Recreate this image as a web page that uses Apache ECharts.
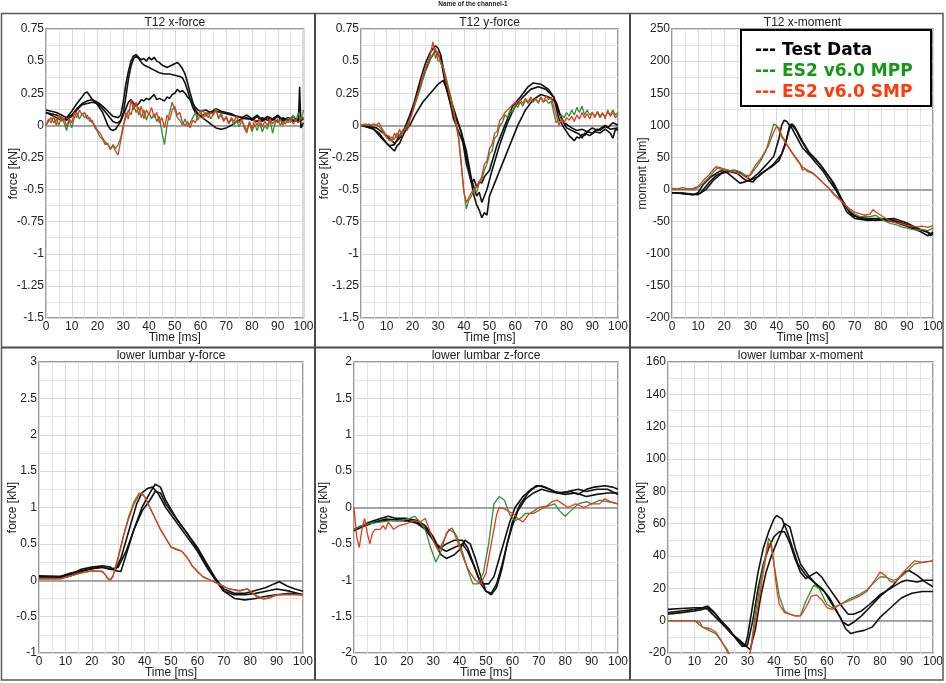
<!DOCTYPE html>
<html><head><meta charset="utf-8">
<script src="https://cdn.jsdelivr.net/npm/echarts@6/dist/echarts.min.js"></script>
<style>html,body{margin:0;padding:0;background:#fff}#c{width:946px;height:683px}</style>
</head><body><div id="c"></div>
<script>
// ---------------- DATA ----------------
const MAIN_TITLE = 'Name of the channel-1';
const PANEL_TITLES = ['T12 x-force','T12 y-force','T12 x-moment','lower lumbar y-force','lower lumbar z-force','lower lumbar x-moment'];
const Y_NAMES = ['force [kN]','force [kN]','moment [Nm]','force [kN]','force [kN]','force [kN]'];
const X_NAME = 'Time [ms]';
const Y_MIN = [-1.5,-1.5,-200,-1,-2,-20];
const Y_MAX = [0.75,0.75,250,3,2,160];
const Y_STEP = [0.25,0.25,50,0.5,0.5,20];
const X_MIN = 0, X_MAX = 100, X_STEP = 10;
const LEGEND_NAMES = ['Test Data','ES2 v6.0 MPP','ES2 v6.0 SMP'];

const TIME_1MS = [0,1,2,3,4,5,6,7,8,9,10,11,12,13,14,15,16,17,18,19,20,21,22,23,24,25,26,27,28,29,30,31,32,33,34,35,36,37,38,39,40,41,42,43,44,45,46,47,48,49,50,51,52,53,54,55,56,57,58,59,60,61,62,63,64,65,66,67,68,69,70,71,72,73,74,75,76,77,78,79,80,81,82,83,84,85,86,87,88,89,90,91,92,93,94,95,96,97,98,99,100];

// Panel 1: T12 x-force
const P1_TEST_A = [[0,0.12],[2,0.11],[4,0.1],[6,0.08],[8,0.06],[10,0.08],[12,0.13],[14,0.17],[16,0.19],[18,0.2],[20,0.18],[22,0.15],[24,0.11],[26,0.07],[28,0.06],[29,0.08],[30,0.18],[31,0.32],[32,0.42],[33,0.5],[34,0.54],[35,0.55],[36,0.53],[37,0.51],[38,0.52],[39,0.5],[40,0.53],[41,0.51],[42,0.53],[43,0.5],[44,0.49],[45,0.47],[46,0.46],[47,0.45],[48,0.46],[49,0.47],[50,0.48],[51,0.49],[52,0.47],[53,0.44],[54,0.4],[55,0.33],[56,0.25],[57,0.18],[58,0.12],[59,0.09],[60,0.07],[62,0.04],[64,0.01],[66,-0.02],[68,-0.03],[70,-0.02],[72,0.0],[74,0.03],[76,0.05],[78,0.06],[80,0.04],[82,0.07],[84,0.03],[86,0.06],[88,0.04],[90,0.07],[92,0.03],[94,0.06],[96,0.04],[98,0.05],[100,0.06]];
const P1_TEST_B = [[0,0.1],[2,0.09],[4,0.08],[6,0.06],[8,0.04],[10,0.07],[12,0.12],[14,0.16],[16,0.17],[18,0.18],[20,0.17],[22,0.13],[24,0.08],[26,0.03],[27,0.02],[28,0.02],[29,0.04],[30,0.1],[31,0.22],[32,0.36],[33,0.46],[34,0.52],[35,0.54],[36,0.52],[37,0.49],[38,0.47],[40,0.45],[42,0.43],[44,0.41],[46,0.4],[48,0.4],[50,0.39],[52,0.38],[53,0.37],[54,0.33],[55,0.27],[56,0.2],[57,0.14],[58,0.1],[60,0.07],[62,0.09],[64,0.1],[66,0.11],[68,0.1],[70,0.09],[72,0.08],[74,0.07],[76,0.06],[78,0.05],[80,0.05],[82,0.03],[84,0.06],[86,0.04],[88,0.05],[90,0.03],[92,0.06],[94,0.04],[96,0.07],[98,0.03],[100,0.05]];
const P1_TEST_C = [[0,0.1],[2,0.08],[4,0.06],[6,0.04],[8,0.06],[10,0.11],[12,0.17],[14,0.22],[15,0.25],[16,0.26],[17,0.23],[18,0.2],[20,0.16],[22,0.1],[23,0.05],[24,0.0],[25,-0.03],[26,-0.04],[27,-0.03],[28,0.0],[29,0.03],[30,0.08],[31,0.13],[32,0.18],[33,0.2],[34,0.17],[35,0.15],[36,0.17],[37,0.2],[38,0.19],[39,0.21],[40,0.2],[41,0.22],[42,0.24],[43,0.2],[44,0.21],[45,0.2],[46,0.19],[47,0.22],[48,0.21],[49,0.24],[50,0.25],[51,0.28],[52,0.26],[53,0.27],[54,0.25],[55,0.22],[56,0.2],[57,0.17],[58,0.14],[59,0.12],[60,0.11],[62,0.12],[64,0.1],[66,0.13],[68,0.11],[70,0.1],[72,0.09],[74,0.07],[76,0.06],[78,0.08],[80,0.05],[82,0.08],[84,0.04],[86,0.07],[88,0.05],[90,0.08],[92,0.04],[94,0.06],[96,0.03],[97,0.05],[98,0.02],[98.5,0.3],[99,-0.02],[100,0.02]];
const P1_MPP = [0.0,0.03,0.06,0.02,0.05,0.0,0.07,0.02,-0.04,0.04,-0.02,0.06,0.1,0.05,0.09,0.06,0.08,0.03,0.04,-0.02,-0.05,-0.09,-0.11,-0.15,-0.14,-0.19,-0.15,-0.18,-0.15,-0.1,0.0,0.06,0.12,0.08,0.16,0.1,0.14,0.06,0.12,0.04,0.1,0.05,0.09,0.03,0.07,-0.05,-0.15,0.0,0.1,0.18,0.12,0.06,0.04,0.0,0.05,-0.01,0.02,0.06,0.1,0.04,0.09,0.12,0.07,0.1,0.05,0.09,0.13,0.05,0.1,0.04,0.06,0.01,0.05,0.0,0.04,-0.01,0.03,0.0,-0.04,0.02,-0.05,0.01,-0.04,0.02,-0.05,0.0,-0.03,0.04,-0.06,0.02,0.05,0.0,0.03,0.01,0.06,0.02,0.08,0.03,0.1,0.04,0.12];
const P1_SMP = [0.0,0.05,0.02,0.07,0.0,0.08,0.03,0.06,-0.01,0.05,0.02,0.1,0.06,0.12,0.08,0.1,0.05,0.06,0.02,0.0,-0.04,-0.06,-0.1,-0.13,-0.15,-0.18,-0.16,-0.2,-0.23,-0.12,-0.02,0.1,0.05,0.2,0.12,0.18,0.08,0.15,0.05,0.12,0.08,0.14,0.06,0.1,0.02,0.06,-0.02,0.08,0.04,0.12,0.15,0.08,0.1,0.02,0.0,0.03,-0.02,0.04,0.02,0.08,0.12,0.05,0.1,0.06,0.1,0.08,0.12,0.06,0.08,0.03,0.07,0.02,0.06,0.03,0.07,0.02,0.05,-0.02,-0.06,0.03,-0.03,0.04,0.0,0.05,-0.01,0.03,0.0,0.05,0.01,0.04,0.02,0.05,0.0,0.04,0.02,0.06,0.01,0.04,0.02,0.06,0.05];

// Panel 2: T12 y-force
const P2_TEST_A = [[0,0],[4,-0.02],[7,-0.06],[10,-0.14],[12,-0.18],[13,-0.2],[14,-0.16],[15,-0.14],[17,-0.05],[19,0.05],[21,0.2],[23,0.35],[25,0.48],[27,0.57],[29,0.62],[30,0.6],[31,0.55],[33,0.35],[35,0.2],[37,0.07],[39,-0.05],[41,-0.3],[43,-0.45],[44,-0.42],[45,-0.48],[46,-0.44],[47,-0.45],[48,-0.4],[50,-0.35],[53,-0.15],[56,0.0],[59,0.15],[62,0.22],[65,0.3],[67,0.33],[70,0.32],[73,0.28],[75,0.22],[77,0.05],[79,-0.02],[81,-0.08],[82,-0.1],[83,-0.12],[84,-0.09],[85,-0.1],[86,-0.07],[87,-0.08],[88,-0.05],[90,-0.06],[92,-0.03],[93,-0.04],[95,-0.01],[96,-0.02],[98,0.02],[100,0.0]];
const P2_TEST_B = [[0,0],[5,-0.03],[8,-0.1],[11,-0.16],[13,-0.15],[15,-0.08],[17,-0.02],[19,0.08],[22,0.25],[25,0.42],[27,0.52],[29,0.58],[31,0.52],[33,0.3],[35,0.15],[37,0.05],[39,-0.05],[41,-0.2],[43,-0.42],[45,-0.55],[46,-0.52],[47,-0.6],[48,-0.55],[49,-0.5],[51,-0.35],[54,-0.15],[57,0.02],[60,0.15],[63,0.22],[66,0.28],[69,0.3],[72,0.28],[75,0.22],[77,0.1],[79,0.02],[82,-0.02],[84,-0.04],[86,-0.03],[88,-0.05],[90,-0.02],[92,-0.04],[95,0.0],[97,-0.03],[100,-0.02]];
const P2_TEST_C = [[0,0],[6,-0.02],[10,-0.08],[13,-0.14],[15,-0.1],[17,-0.05],[19,0.0],[21,0.08],[24,0.18],[27,0.25],[30,0.32],[32,0.35],[34,0.25],[36,0.05],[38,-0.05],[40,-0.15],[42,-0.35],[44,-0.55],[45,-0.62],[46,-0.66],[47,-0.72],[48,-0.68],[49,-0.7],[50,-0.55],[52,-0.45],[55,-0.3],[58,-0.15],[61,0.0],[64,0.12],[67,0.2],[70,0.24],[73,0.22],[76,0.18],[78,0.05],[80,-0.02],[83,-0.05],[85,-0.07],[86,-0.1],[87,-0.06],[89,-0.08],[91,-0.05],[93,-0.06],[95,-0.03],[97,-0.06],[98,-0.1],[99,-0.03],[100,-0.04]];
const P2_MPP = [0,0.0,0.01,0.0,0.0,0.01,0.0,-0.01,-0.03,-0.07,-0.09,-0.12,-0.09,-0.11,-0.06,-0.09,-0.05,-0.03,0.0,0.05,0.1,0.16,0.22,0.28,0.35,0.42,0.46,0.52,0.55,0.6,0.5,0.5,0.45,0.38,0.3,0.22,0.12,0.02,-0.1,-0.3,-0.5,-0.65,-0.58,-0.55,-0.5,-0.52,-0.45,-0.42,-0.35,-0.3,-0.22,-0.2,-0.1,-0.08,0.0,0.02,0.08,0.06,0.12,0.1,0.16,0.14,0.18,0.15,0.2,0.17,0.2,0.18,0.21,0.17,0.22,0.18,0.2,0.17,0.19,0.1,0.02,0.05,0.08,0.06,0.1,0.07,0.12,0.08,0.14,0.1,0.15,0.08,0.12,0.08,0.1,0.07,0.1,0.06,0.09,0.07,0.1,0.08,0.12,0.08,0.1];
const P2_SMP = [0,0.01,0.0,0.01,0.0,0.01,0.0,0.02,-0.02,-0.05,-0.1,-0.08,-0.13,-0.06,-0.1,-0.03,-0.08,-0.02,-0.04,0.04,0.1,0.18,0.24,0.3,0.38,0.44,0.5,0.55,0.65,0.52,0.58,0.48,0.45,0.35,0.28,0.18,0.1,0.0,-0.1,-0.3,-0.52,-0.6,-0.56,-0.52,-0.5,-0.48,-0.44,-0.4,-0.3,-0.28,-0.18,-0.15,-0.06,-0.05,0.04,0.06,0.1,0.12,0.14,0.16,0.18,0.16,0.2,0.17,0.21,0.18,0.22,0.19,0.2,0.18,0.22,0.18,0.23,0.2,0.22,0.15,0.08,0.0,0.05,0.02,0.06,0.04,0.07,0.03,0.08,0.05,0.1,0.06,0.09,0.05,0.1,0.06,0.11,0.07,0.1,0.05,0.12,0.07,0.1,0.06,0.08];

// Panel 3: T12 x-moment
const P3_TEST_A = [[0,-5],[4,-6],[8,-8],[10,-5],[12,8],[15,20],[18,28],[20,30],[23,20],[26,10],[28,12],[30,15],[33,25],[36,38],[39,52],[41,80],[42,100],[43,108],[44,106],[46,95],[48,80],[50,65],[53,52],[55,42],[58,28],[60,15],[63,-2],[65,-15],[68,-35],[70,-42],[75,-45],[80,-45],[85,-48],[90,-55],[95,-62],[98,-66],[99,-72],[100,-68]];
const P3_TEST_B = [[0,-5],[4,-6],[8,-8],[11,-5],[14,10],[17,22],[20,28],[24,30],[27,25],[30,15],[33,20],[36,30],[39,40],[42,55],[44,80],[45,100],[46,102],[47,98],[49,80],[52,60],[55,48],[58,32],[62,10],[65,-15],[68,-35],[72,-45],[78,-48],[82,-46],[85,-45],[90,-52],[95,-62],[100,-70]];
const P3_TEST_C = [[0,-5],[5,-6],[10,-8],[13,0],[16,15],[19,25],[22,28],[25,25],[28,15],[31,12],[34,25],[38,35],[41,45],[43,65],[45,95],[46,100],[48,90],[50,75],[53,55],[57,38],[61,15],[64,-10],[67,-35],[70,-45],[75,-48],[80,-47],[85,-50],[90,-57],[95,-65],[98,-72],[100,-66]];
const P3_MPP = [[0,0],[2,1],[4,0],[6,1],[8,0],[10,3],[12,10],[14,18],[16,28],[18,35],[20,32],[22,30],[24,30],[26,28],[28,22],[30,22],[32,33],[34,45],[36,60],[38,88],[39,102],[40,100],[41,92],[42,82],[44,70],[46,58],[48,47],[50,35],[52,30],[54,26],[56,18],[58,10],[60,3],[62,-6],[64,-14],[66,-22],[68,-32],[70,-38],[72,-42],[74,-42],[76,-42],[78,-40],[80,-45],[82,-50],[84,-53],[86,-55],[88,-58],[90,-60],[92,-62],[94,-63],[96,-62],[98,-64],[100,-60]];
const P3_SMP = [[0,2],[2,1],[4,3],[6,1],[8,2],[10,5],[12,14],[14,22],[16,32],[17,36],[18,33],[20,30],[22,29],[24,27],[26,25],[28,20],[29,18],[30,24],[32,38],[34,48],[36,62],[37,68],[38,80],[39,90],[40,98],[41,96],[42,85],[43,78],[44,70],[46,57],[48,45],[49,40],[50,30],[51,32],[52,28],[54,25],[56,18],[58,10],[60,2],[62,-8],[64,-15],[66,-22],[68,-30],[70,-35],[72,-38],[74,-40],[76,-38],[77,-31],[78,-35],[80,-40],[82,-45],[84,-50],[86,-52],[88,-53],[90,-56],[92,-57],[94,-58],[96,-57],[98,-59],[100,-56]];

// Panel 4: lower lumbar y-force
const P4_TEST_A = [[0,0.05],[8,0.05],[12,0.1],[16,0.13],[20,0.16],[24,0.18],[27,0.15],[29,0.15],[31,0.3],[33,0.55],[35,0.8],[37,1.05],[39,1.2],[41,1.26],[43,1.28],[45,1.2],[48,1.0],[52,0.8],[56,0.6],[60,0.4],[64,0.15],[67,0.0],[70,-0.15],[74,-0.25],[78,-0.27],[82,-0.25],[86,-0.22],[90,-0.2],[95,-0.18],[100,-0.2]];
const P4_TEST_B = [[0,0.06],[8,0.05],[12,0.08],[16,0.15],[20,0.18],[24,0.2],[27,0.18],[29,0.13],[31,0.12],[33,0.35],[36,0.7],[39,1.0],[42,1.2],[44,1.32],[46,1.28],[48,1.1],[52,0.85],[56,0.65],[60,0.45],[64,0.2],[67,0.02],[70,-0.12],[74,-0.18],[78,-0.18],[82,-0.14],[86,-0.1],[89,-0.05],[91,-0.02],[94,-0.08],[97,-0.12],[100,-0.15]];
const P4_TEST_C = [[0,0.03],[8,0.03],[12,0.06],[16,0.12],[20,0.16],[24,0.18],[27,0.15],[30,0.18],[33,0.4],[36,0.7],[39,0.95],[42,1.1],[44,1.22],[46,1.2],[48,1.05],[52,0.85],[56,0.65],[60,0.42],[64,0.18],[67,0.0],[70,-0.15],[74,-0.2],[78,-0.2],[82,-0.18],[86,-0.15],[90,-0.12],[95,-0.15],[100,-0.2]];
const P4_MPP = [[0,0.02],[8,0.02],[12,0.06],[16,0.1],[20,0.13],[24,0.12],[25,0.08],[26,0.03],[27,0.01],[28,0.06],[30,0.32],[32,0.62],[34,0.88],[36,1.08],[38,1.2],[38.5,1.22],[40,1.15],[42,1.0],[44,0.85],[46,0.7],[48,0.58],[50,0.46],[52,0.43],[54,0.4],[56,0.32],[58,0.2],[60,0.12],[62,0.05],[65,0.0],[68,-0.05],[72,-0.12],[76,-0.14],[79,-0.12],[81,-0.18],[83,-0.22],[85,-0.26],[87,-0.25],[90,-0.2],[95,-0.19],[100,-0.2]];
const P4_SMP = [[0,0.02],[8,0.02],[12,0.06],[16,0.1],[20,0.13],[24,0.12],[25,0.08],[26,0.02],[27,0.0],[28,0.05],[30,0.3],[32,0.6],[34,0.85],[36,1.05],[38,1.18],[39,1.2],[40,1.15],[42,1.0],[44,0.85],[46,0.7],[48,0.58],[50,0.45],[52,0.42],[54,0.4],[56,0.32],[58,0.2],[60,0.12],[62,0.05],[65,0.0],[68,-0.05],[72,-0.12],[76,-0.15],[79,-0.12],[81,-0.18],[83,-0.25],[86,-0.25],[90,-0.2],[95,-0.2],[100,-0.2]];

// Panel 5: lower lumbar z-force
const P5_TEST_A = [[0,-0.3],[3,-0.25],[6,-0.2],[10,-0.15],[13,-0.12],[16,-0.15],[20,-0.15],[24,-0.18],[27,-0.25],[29,-0.35],[31,-0.5],[33,-0.55],[35,-0.5],[38,-0.45],[41,-0.45],[43,-0.55],[45,-0.75],[47,-0.95],[49,-1.05],[51,-1.05],[53,-0.95],[55,-0.7],[57,-0.45],[59,-0.2],[61,0.0],[64,0.15],[67,0.25],[70,0.3],[73,0.27],[76,0.22],[79,0.2],[82,0.22],[85,0.18],[88,0.25],[91,0.28],[95,0.3],[98,0.28],[100,0.25]];
const P5_TEST_B = [[0,-0.3],[4,-0.25],[8,-0.2],[12,-0.16],[16,-0.17],[20,-0.18],[24,-0.2],[27,-0.28],[30,-0.4],[32,-0.55],[35,-0.6],[38,-0.55],[41,-0.5],[43,-0.6],[46,-0.85],[48,-1.05],[50,-1.15],[52,-1.18],[54,-1.05],[56,-0.8],[58,-0.5],[60,-0.2],[63,0.05],[66,0.2],[69,0.3],[71,0.3],[74,0.25],[77,0.2],[80,0.18],[84,0.2],[88,0.15],[92,0.18],[96,0.2],[100,0.2]];
const P5_TEST_C = [[0,-0.32],[4,-0.25],[8,-0.2],[12,-0.17],[16,-0.18],[20,-0.18],[24,-0.22],[27,-0.3],[30,-0.45],[33,-0.65],[35,-0.7],[38,-0.65],[40,-0.58],[42,-0.45],[44,-0.5],[46,-0.7],[48,-0.95],[50,-1.15],[52,-1.2],[54,-1.1],[56,-0.85],[58,-0.5],[60,-0.25],[62,-0.05],[65,0.12],[68,0.2],[71,0.25],[74,0.22],[77,0.2],[81,0.22],[85,0.25],[88,0.22],[92,0.25],[96,0.25],[100,0.18]];
const P5_MPP = [[0,-0.3],[3,-0.25],[6,-0.22],[10,-0.2],[14,-0.18],[18,-0.18],[21,-0.15],[23,-0.12],[25,-0.2],[27,-0.3],[29,-0.55],[31,-0.75],[33,-0.6],[35,-0.35],[37,-0.28],[39,-0.4],[41,-0.6],[43,-0.85],[45,-1.05],[47,-1.05],[49,-0.9],[51,-0.5],[53,0.05],[55,0.15],[57,0.1],[59,-0.1],[61,-0.18],[63,-0.15],[65,-0.08],[68,-0.08],[72,0.0],[76,0.05],[78,-0.05],[80,-0.12],[82,-0.05],[85,0.05],[88,0.08],[90,0.05],[93,0.1],[96,0.08],[100,0.05]];
const P5_SMP = [[0,0.0],[1,-0.4],[2,-0.55],[3,-0.3],[4,-0.15],[5,-0.35],[6,-0.5],[7,-0.35],[8,-0.3],[10,-0.3],[11,-0.25],[12,-0.3],[13,-0.2],[14,-0.25],[15,-0.3],[17,-0.25],[20,-0.22],[23,-0.18],[25,-0.2],[27,-0.15],[28,-0.25],[30,-0.45],[32,-0.6],[34,-0.45],[36,-0.3],[38,-0.35],[40,-0.55],[42,-0.75],[44,-0.9],[46,-1.0],[48,-1.05],[50,-0.9],[52,-0.5],[54,-0.1],[55,0.0],[57,-0.02],[60,-0.08],[62,-0.15],[64,-0.2],[66,-0.1],[68,-0.05],[70,0.0],[73,0.02],[75,0.08],[77,0.1],[79,0.05],[81,0.0],[84,0.05],[87,0.0],[90,0.05],[93,0.05],[95,0.12],[97,0.08],[100,0.05]];

// Panel 6: lower lumbar x-moment
const P6_TEST_A = [[0,5],[5,6],[10,7],[13,8],[15,9],[17,6],[20,0],[23,-5],[26,-12],[28,-16],[30,-15],[32,0],[34,20],[36,35],[38,45],[40,52],[42,55],[44,55],[46,48],[48,38],[50,30],[52,26],[54,28],[56,30],[58,27],[60,22],[63,15],[66,8],[68,4],[70,4],[73,6],[76,10],[80,16],[84,20],[88,24],[90,25],[94,24],[97,25],[100,25]];
const P6_TEST_B = [[0,7],[5,7.5],[10,8],[13,8],[15,7],[18,2],[21,-3],[24,-8],[27,-13],[29,-16],[30,-10],[32,10],[34,30],[36,45],[38,55],[40,63],[41,65],[43,63],[45,55],[47,45],[49,35],[52,28],[55,24],[58,20],[61,14],[64,5],[66,-1],[68,-3],[70,-1],[73,3],[76,8],[80,15],[85,22],[89,30],[91,31],[94,28],[97,24],[100,21]];
const P6_TEST_C = [[0,4],[5,5],[10,6],[13,7],[15,8],[18,4],[21,-2],[24,-8],[27,-12],[29,-15],[31,-18],[33,-5],[35,15],[37,30],[39,40],[41,48],[43,56],[44,60],[46,58],[48,45],[50,35],[53,28],[56,22],[59,18],[62,10],[65,2],[67,-5],[69,-8],[71,-7],[74,-6],[77,-4],[80,2],[84,8],[88,14],[92,17],[96,18],[100,18]];
const P6_MPP = [[0,0],[10,0],[13,-4],[18,-8],[22,-17],[24,-23],[28,-28],[31,-20],[33,5],[35,25],[37,42],[38,51],[39,48],[40,35],[42,15],[44,6],[46,4],[48,3],[50,3],[52,12],[55,22],[57,20],[60,10],[62,8],[65,10],[68,13],[72,16],[75,19],[78,24],[80,27],[82,27],[85,25],[87,26],[90,30],[93,35],[96,36],[100,37]];
const P6_SMP = [[0,0],[5,0],[10,0],[12,-1],[13,-4],[16,-5],[18,-7],[20,-12],[22,-18],[24,-24],[27,-28],[30,-24],[31,-20],[33,0],[35,20],[37,40],[38,48],[39,45],[40,35],[41,20],[42,10],[44,5],[46,4],[48,3],[50,3],[52,8],[54,15],[56,16],[58,13],[60,8],[62,7],[65,10],[68,12],[72,15],[75,18],[78,25],[80,30],[82,28],[84,24],[86,24],[88,28],[90,32],[93,37],[96,36],[100,37]];

// ---------------- BUILD ----------------
const withTime = (vals) => vals.map((v, i) => [TIME_1MS[i], v]);
const PANEL_DATA = [
  {test:[P1_TEST_A,P1_TEST_B,P1_TEST_C], mpp:withTime(P1_MPP), smp:withTime(P1_SMP)},
  {test:[P2_TEST_A,P2_TEST_B,P2_TEST_C], mpp:withTime(P2_MPP), smp:withTime(P2_SMP)},
  {test:[P3_TEST_A,P3_TEST_B,P3_TEST_C], mpp:P3_MPP, smp:P3_SMP},
  {test:[P4_TEST_A,P4_TEST_B,P4_TEST_C], mpp:P4_MPP, smp:P4_SMP},
  {test:[P5_TEST_A,P5_TEST_B,P5_TEST_C], mpp:P5_MPP, smp:P5_SMP},
  {test:[P6_TEST_A,P6_TEST_B,P6_TEST_C], mpp:P6_MPP, smp:P6_SMP}
];

const FONT = '"Liberation Sans", Arial, Helvetica, sans-serif';
const BLACK = '#111111', GREEN = '#2f8f2f', RED = '#e5391d';
const GRID_POS = [
  {left:46, top:29, width:257.5, height:289},
  {left:361, top:29, width:257, height:289},
  {left:672, top:29, width:261, height:289},
  {left:39, top:362, width:264, height:291},
  {left:354, top:362, width:264, height:291},
  {left:668, top:362, width:265, height:291}
];
const Y_NAME_GAP = [26,30,23,20,24,20];

const grids = [], xAxes = [], yAxes = [], series = [], titles = [];
titles.push({text: MAIN_TITLE, left: 473, top: 1, textAlign: 'center', padding: 0,
  textStyle: {fontSize: 6.5, fontWeight: 'bold', color: '#222', fontFamily: FONT}});

PANEL_TITLES.forEach((t, i) => {
  const g = GRID_POS[i];
  grids.push({left: g.left, top: g.top, width: g.width, height: g.height, show: true,
    borderColor: '#7a7a7a', borderWidth: 1.5, backgroundColor: '#fff', outerBoundsMode: 'none', containLabel: false});
  titles.push({text: t, left: g.left + g.width / 2, top: g.top - 12, textAlign: 'center', padding: 0,
    textStyle: {fontSize: 12, fontWeight: 'normal', color: '#222', fontFamily: FONT}});
  xAxes.push({type: 'value', gridIndex: i, min: X_MIN, max: X_MAX, interval: X_STEP,
    name: X_NAME, nameLocation: 'middle', nameGap: 14, nameMoveOverlap: false,
    nameTextStyle: {fontSize: 12, color: '#222', fontFamily: FONT},
    axisLine: {show: false}, axisTick: {show: false},
    axisLabel: {fontSize: 12, color: '#222', fontFamily: FONT, margin: 3, showMinLabel: true, showMaxLabel: true},
    splitLine: {show: true, lineStyle: {color: '#d9d9d9', width: 1}},
    minorTick: {show: false, splitNumber: 2},
    minorSplitLine: {show: true, lineStyle: {color: '#e3e3e3', width: 1}}});
  yAxes.push({type: 'value', gridIndex: i, min: Y_MIN[i], max: Y_MAX[i], interval: Y_STEP[i],
    name: Y_NAMES[i], nameLocation: 'middle', nameGap: Y_NAME_GAP[i], nameMoveOverlap: false,
    nameTextStyle: {fontSize: 12, color: '#222', fontFamily: FONT},
    axisLine: {show: false}, axisTick: {show: false},
    axisLabel: {fontSize: 12, color: '#222', fontFamily: FONT, margin: 2, showMinLabel: true, showMaxLabel: true},
    splitLine: {show: true, lineStyle: {color: '#d9d9d9', width: 1}},
    minorTick: {show: false, splitNumber: 2},
    minorSplitLine: {show: true, lineStyle: {color: '#e3e3e3', width: 1}}});

  const pd = PANEL_DATA[i];
  pd.test.forEach((d, k) => {
    const s = {type: 'line', name: LEGEND_NAMES[0], xAxisIndex: i, yAxisIndex: i, data: d,
      showSymbol: false, symbol: 'none', clip: true, animation: false, z: 3,
      lineStyle: {color: BLACK, width: 1.6}, itemStyle: {color: BLACK}};
    if (k === 0) {
      s.markLine = {silent: true, symbol: ['none','none'], label: {show: false}, animation: false,
        lineStyle: {color: '#8c8c8c', type: 'solid', width: 1.5}, data: [{yAxis: 0}], z: 2};
    }
    series.push(s);
  });
  series.push({type: 'line', name: LEGEND_NAMES[1], xAxisIndex: i, yAxisIndex: i, data: pd.mpp,
    showSymbol: false, symbol: 'none', clip: true, animation: false, z: 4,
    lineStyle: {color: GREEN, width: 1.3}, itemStyle: {color: GREEN}});
  series.push({type: 'line', name: LEGEND_NAMES[2], xAxisIndex: i, yAxisIndex: i, data: pd.smp,
    showSymbol: false, symbol: 'none', clip: true, animation: false, z: 5,
    lineStyle: {color: RED, width: 1.3}, itemStyle: {color: RED}});
});

const LEGEND_COLORS = ['#000000', '#149914', '#ff3a0c'];
const option = {
  backgroundColor: '#ffffff',
  animation: false,
  title: titles,
  grid: grids,
  xAxis: xAxes,
  yAxis: yAxes,
  series: series,
  legend: {
    orient: 'vertical', left: 750, top: 40.5, padding: 0, itemGap: 0.5,
    itemWidth: 0, itemHeight: 0, icon: 'none', selectedMode: false, z: 20,
    formatter: (name) => '--- ' + name,
    textStyle: {fontFamily: '"DejaVu Sans", Verdana, sans-serif', fontWeight: 'bold', fontSize: 17, lineHeight: 20.5},
    data: LEGEND_NAMES.map((n, k) => ({name: n, icon: 'none', textStyle: {color: LEGEND_COLORS[k]}}))
  },
  graphic: [
    {type: 'rect', z: 15, shape: {x: 741, y: 30, width: 190, height: 76}, style: {fill: '#ffffff', stroke: '#000000', lineWidth: 2}},
    {type: 'rect', z: 1, shape: {x: 1.5, y: 13.5, width: 941.5, height: 666.5}, style: {fill: null, stroke: '#5a5a5a', lineWidth: 1.5}},
    {type: 'line', z: 1, shape: {x1: 315, y1: 13.5, x2: 315, y2: 680}, style: {stroke: '#4a4a4a', lineWidth: 2}},
    {type: 'line', z: 1, shape: {x1: 630, y1: 13.5, x2: 630, y2: 680}, style: {stroke: '#4a4a4a', lineWidth: 2}},
    {type: 'line', z: 1, shape: {x1: 1.5, y1: 347.5, x2: 943, y2: 347.5}, style: {stroke: '#4a4a4a', lineWidth: 2}}
  ]
};

const chart = echarts.init(document.getElementById('c'), null, {renderer: 'canvas'});
chart.setOption(option);
</script></body></html>
